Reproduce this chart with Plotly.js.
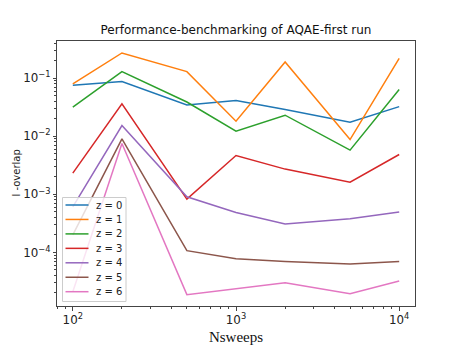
<!DOCTYPE html>
<html>
<head>
<meta charset="utf-8">
<script src="https://cdn.plot.ly/plotly-3.0.1.min.js"></script>
<style>html,body{margin:0;padding:0;background:#fff;}#chart{width:460px;height:345px;}</style>
</head>
<body>
<div id="chart"></div>
<script>
const nsweeps = [100, 200, 500, 1000, 2000, 5000, 10000];
const seriesNames = ["z = 0", "z = 1", "z = 2", "z = 3", "z = 4", "z = 5", "z = 6"];
const z0 = [0.0758, 0.0877, 0.0347, 0.0413, 0.0289, 0.0175, 0.0325];
const z1 = [0.0798, 0.273, 0.130, 0.0182, 0.191, 0.0088, 0.221];
const z2 = [0.0317, 0.130, 0.039, 0.01225, 0.0231, 0.00577, 0.0638];
const z3 = [0.00232, 0.0362, 0.000826, 0.00467, 0.00272, 0.00162, 0.00486];
const z4 = [0.00061, 0.0153, 0.000908, 0.000488, 0.000307, 0.000379, 0.000494];
const z5 = [0.0002, 0.00904, 0.000107, 0.0000777, 0.0000698, 0.0000629, 0.0000698];
const z6 = [0.000021, 0.0075, 0.0000187, 0.0000237, 0.00003, 0.0000194, 0.0000321];
const seriesValues = [z0, z1, z2, z3, z4, z5, z6];
const colors = ["#1f77b4", "#ff7f0e", "#2ca02c", "#d62728", "#9467bd", "#8c564b", "#e377c2"];

const traces = seriesValues.map((vals, i) => ({
  x: nsweeps, y: vals, name: seriesNames[i], type: 'scatter', mode: 'lines',
  line: {color: colors[i], width: 1.5}, showlegend: false
}));

// plot area in pixels (for converting legend box placement to paper coords)
const PL = 57, PR = 415, PT = 41, PB = 306;
const px = v => (v - PL) / (PR - PL);
const py = v => (PB - v) / (PB - PT);

// legend drawn as shapes + annotations (matplotlib-like compact spacing)
const shapes = [{
  type: 'rect', xref: 'paper', yref: 'paper', layer: 'above',
  x0: px(62.5), x1: px(126), y0: py(301.5), y1: py(197.5),
  fillcolor: 'rgba(255,255,255,0.8)', line: {color: '#cccccc', width: 1}
}];
const annotations = [];
seriesNames.forEach((name, i) => {
  const yc = 205 + i * 14.45;
  shapes.push({type: 'line', xref: 'paper', yref: 'paper', layer: 'above',
    x0: px(65.5), x1: px(88.5), y0: py(yc), y1: py(yc), line: {color: colors[i], width: 1.5}});
  annotations.push({xref: 'paper', yref: 'paper', x: px(94), y: py(yc), text: name,
    showarrow: false, xanchor: 'left', yanchor: 'middle',
    font: {family: 'DejaVu Sans', size: 10, color: '#222'}});
});
// y-axis title placed like the reference
annotations.push({xref: 'paper', yref: 'paper', x: px(16), y: py(173.5), text: 'l -overlap',
  textangle: -90, showarrow: false, xanchor: 'center', yanchor: 'middle',
  font: {family: 'DejaVu Sans', size: 10, color: '#222'}});

const axisCommon = {
  type: 'log', showgrid: false, zeroline: false, showline: true, mirror: true,
  linecolor: '#444', linewidth: 1, ticks: 'outside', ticklen: 3.5, tickcolor: '#444',
  dtick: 1, exponentformat: 'power', tickfont: {family: 'DejaVu Sans', size: 9.5, color: '#222'},
  minor: {ticks: 'outside', ticklen: 2, tickcolor: '#444', dtick: 'D1', showgrid: false}
};

const layout = {
  width: 460, height: 345,
  margin: {l: PL, r: 460 - PR, t: PT, b: 345 - PB},
  paper_bgcolor: '#fff', plot_bgcolor: '#fff',
  font: {family: 'DejaVu Sans', color: '#222'},
  title: {text: 'Performance-benchmarking of AQAE-first run', font: {family: 'DejaVu Sans', size: 12, color: '#111'},
          x: 0.513, xanchor: 'center', y: 0.915, yanchor: 'middle'},
  xaxis: Object.assign({}, axisCommon, {
    range: [Math.log10(80), Math.log10(12500)],
    title: {text: 'Nsweeps', font: {family: 'Liberation Serif', size: 15, color: '#111'}, standoff: 12}
  }),
  yaxis: Object.assign({}, axisCommon, {
    range: [-4.924, -0.358]
  }),
  showlegend: false,
  shapes: shapes,
  annotations: annotations
};

Plotly.newPlot('chart', traces, layout, {staticPlot: true, displayModeBar: false});
</script>
</body>
</html>
